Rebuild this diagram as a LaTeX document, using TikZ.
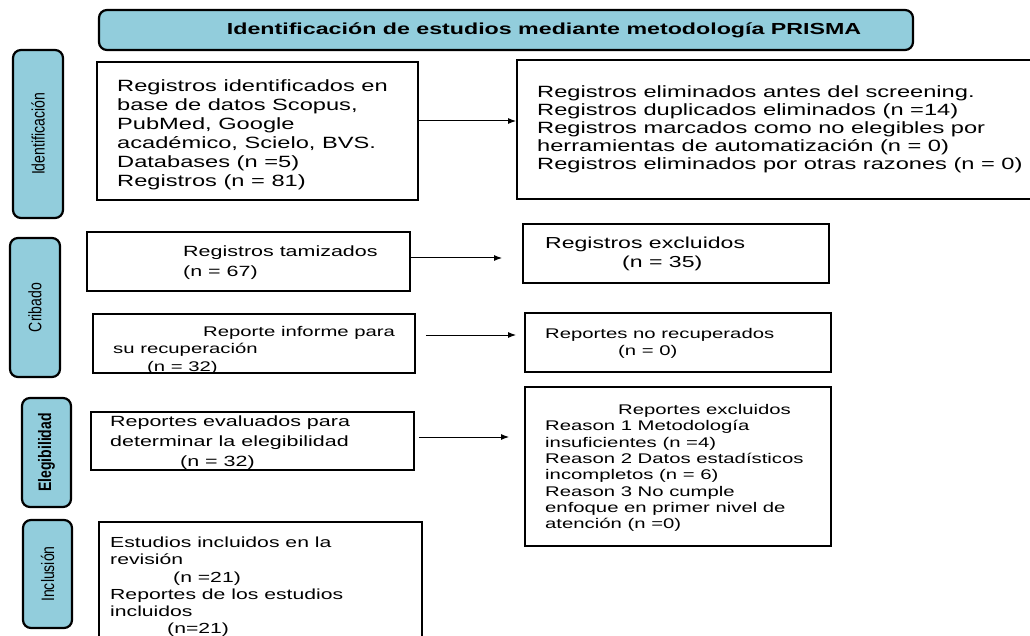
\documentclass[tikz,border=0pt]{standalone}
\usepackage{fontspec}
\setmainfont{Liberation Sans}[FakeStretch=1.45]
\newfontfamily\sidefont{Liberation Sans}[FakeStretch=0.78]
\usetikzlibrary{arrows.meta,calc}
\definecolor{sideblue}{RGB}{146,205,220}
\begin{document}
\begin{tikzpicture}[x=1pt,y=-1pt,
  bx/.style 2 args={draw, line width=1.9pt, inner sep=0pt, minimum width=#1, minimum height=#2},
  rbx/.style 2 args={draw, fill=sideblue, line width=2.2pt, rounded corners=8pt, inner sep=0pt, minimum width=#1, minimum height=#2},
  txt/.style={inner sep=0pt, align=left, anchor=west, font=\fontsize{14}{16.3}\selectfont},
  side/.style={inner sep=0pt, rotate=90, font=\sidefont\fontsize{18}{20}\selectfont},
  arr/.style={line width=1pt, -{Latex[length=8pt,width=6pt]}}]
\useasboundingbox (0,0) rectangle (1030,636);
% title
\node[rbx={814pt}{40pt}] (title) at (506,30) {};
\node[inner sep=0pt, font=\bfseries\fontsize{16}{18}\selectfont] (titleT) at (544,30) {Identificación de estudios mediante metodología PRISMA};
% side labels
\node[rbx={50pt}{168pt}] (sId) at (38,134) {};
\node[side] (sIdT) at (sId.center) {Identificación};
\node[rbx={50pt}{139pt}] (sCr) at (35,307.5) {};
\node[side] (sCrT) at (sCr.center) {Cribado};
\node[rbx={49pt}{109pt}] (sEl) at (46.5,452.5) {};
\node[side, font=\sidefont\bfseries\fontsize{18}{20}\selectfont] (sElT) at (sEl.center) {Elegibilidad};
\node[rbx={49pt}{108pt}] (sIn) at (47.5,574) {};
\node[side] (sInT) at (sIn.center) {Inclusión};
% texts
\node[txt, font=\fontsize{16.3}{19}\selectfont] (AT) at (117,135) {Registros identificados en\\base de datos Scopus,\\PubMed, Google\\académico, Scielo, BVS.\\Databases (n =5)\\Registros (n = 81)};
\node[txt, font=\fontsize{16.3}{18}\selectfont] (BT) at (537,129.5) {Registros eliminados antes del screening.\\Registros duplicados eliminados (n =14)\\Registros marcados como no elegibles por\\herramientas de automatización (n = 0)\\Registros eliminados por otras razones (n = 0)};
\node[txt, font=\fontsize{14.8}{20}\selectfont] (CT) at (183,263) {Registros tamizados\\(n = 67)};
\node[txt, font=\fontsize{15.9}{18.5}\selectfont] (DT) at (545,254) {Registros excluidos\\\hspace*{77pt}(n = 35)};
\node[txt, font=\fontsize{14}{17.5}\selectfont] (ET) at (113,350) {\hspace*{90pt}Reporte informe para\\su recuperación\\\hspace*{34pt}(n = 32)};
\node[txt, font=\fontsize{14}{17}\selectfont] (FT) at (545,343.5) {Reportes no recuperados\\\hspace*{73pt}(n = 0)};
\node[txt, font=\fontsize{14.8}{20}\selectfont] (GT) at (110,443) {Reportes evaluados para\\determinar la elegibilidad\\\hspace*{70pt}(n = 32)};
\node[txt] (HT) at (545,468) {\hspace*{73pt}Reportes excluidos\\Reason 1 Metodología\\insuficientes (n =4)\\Reason 2 Datos estadísticos\\incompletos (n = 6)\\Reason 3 No cumple\\enfoque en primer nivel de\\atención (n =0)};
\node[txt, font=\fontsize{14.6}{17.2}\selectfont] (IT) at (110,587) {Estudios incluidos en la\\revisión\\\hspace*{63pt}(n =21)\\Reportes de los estudios\\incluidos\\\hspace*{57pt}(n=21)};
% boxes
\node[bx={321pt}{138pt}] (A) at (257.5,131) {};
\node[bx={600pt}{139pt}] (B) at (817,129.5) {};
\node[bx={323pt}{59pt}] (C) at (248.5,261.5) {};
\node[bx={306pt}{59pt}] (D) at (676,253.5) {};
\node[bx={322pt}{59pt}] (E) at (254,343.5) {};
\node[bx={306pt}{59pt}] (F) at (678,342.5) {};
\node[bx={323pt}{58pt}] (G) at (252.5,441) {};
\node[bx={306pt}{159pt}] (H) at (678,466.5) {};
\node[bx={323pt}{138pt}] (I) at (260.5,591) {};
% arrows
\draw[arr] ($(A.east)+(0,-10)$) -- ($(B.west)+(0,-8.5)$);
\draw[arr] ($(C.east)+(0,-3.5)$) -- ($(D.west)+(-20,4.5)$);
\draw[arr] ($(E.east)+(10,-8.5)$) -- ($(F.west)+(-8,-7.5)$);
\draw[arr] ($(G.east)+(4,-4)$) -- ($(H.west)+(-15,-29.5)$);
\end{tikzpicture}
\end{document}
